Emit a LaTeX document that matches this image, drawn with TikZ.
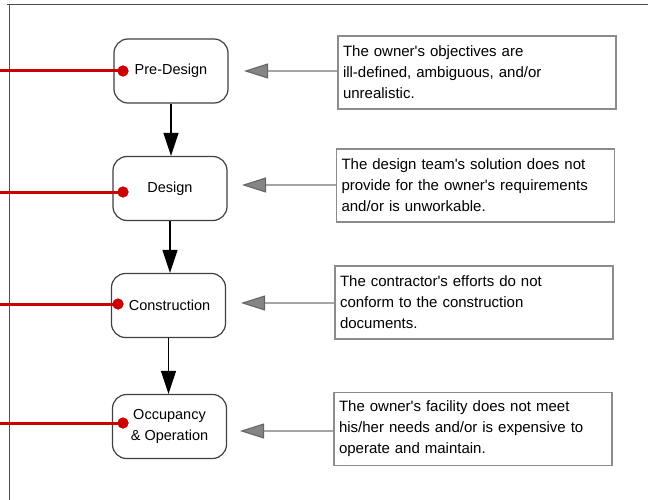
\documentclass[tikz,border=0pt]{standalone}
\usepackage{fontspec}
\setmainfont{Liberation Sans}[Ligatures=TeXOff]
\usetikzlibrary{arrows.meta}
\definecolor{dred}{RGB}{204,0,0}
\begin{document}
\begin{tikzpicture}[x=1pt,y=-1pt,
  stage/.style={draw=black!75, line width=1.2pt, rounded corners=14pt, fill=white,
    minimum width=114pt, minimum height=64pt, inner sep=0pt,
    font=\fontsize{14.5}{21}\selectfont, align=center},
  note/.style={draw=black!45, line width=1.1pt, fill=white, inner xsep=5pt, inner ysep=0pt,
    minimum height=73pt, text width=268pt, font=\fontsize{15}{21}\selectfont, align=left},
  flow/.style={draw=black, line width=1.2pt, -{Triangle[length=23pt,width=15pt]}},
  fb/.style={draw=black!35, line width=1.1pt,
    -{Triangle[length=24pt,width=15pt,color=black!60,fill=black!48]}},
  redline/.style={draw=dred, line width=3pt},
  reddot/.style={circle, fill=dred, inner sep=0pt, minimum size=11pt},
  frame/.style={draw=black!70, line width=1.2pt}
]
\fill[white] (0,0) rectangle (648,500);
\useasboundingbox (0,0) rectangle (648,500);
\draw[frame] (7,4.5) -- (648,4.5);
\draw[frame] (9.5,4.5) -- (9.5,500);

% stages
\node[stage] (s1) at (171,71) {Pre-Design};
\node[stage] (s2) at (170,188.5) {Design};
\node[stage] (s3) at (168.5,305.5) {\hspace*{2pt}Construction};
\node[stage] (s4) at (169.5,426.5) {Occupancy\\\& Operation};

% notes
\node[note] (n1) at (477,72.5) {The owner's objectives are\\ill-defined, ambiguous, and/or\\unrealistic.};
\node[note] (n2) at (475.5,185.5) {The design team's solution does not\\provide for the owner's requirements\\and/or is unworkable.};
\node[note] (n3) at (474,302.5) {The contractor's efforts do not\\conform to the construction\\documents.};
\node[note] (n4) at (473,429) {The owner's facility does not meet\\his/her needs and/or is expensive to\\operate and maintain.};

% flow arrows
\draw[flow] (s1.south) -- (s1.south |- s2.north);
\draw[flow] (s2.south) -- (s2.south |- s3.north);
\draw[flow] (s3.south) -- (s3.south |- s4.north);

% feedback arrows
\coordinate (t1) at (244,71);
\coordinate (t2) at (242,185);
\coordinate (t3) at (241,303);
\coordinate (t4) at (240,431);
\draw[fb] (n1.west |- t1) -- (t1);
\draw[fb] (n2.west |- t2) -- (t2);
\draw[fb] (n3.west |- t3) -- (t3);
\draw[fb] (n4.west |- t4) -- (t4);

% red lines with dots
\node[reddot] (d1) at (123,71) {};
\node[reddot] (d2) at (123,192) {};
\node[reddot] (d3) at (118,304) {};
\node[reddot] (d4) at (123,423) {};
\coordinate (e1) at (0,71);
\coordinate (e2) at (0,192);
\coordinate (e3) at (0,304);
\coordinate (e4) at (0,423);
\draw[redline] (e1) -- (d1.center);
\draw[redline] (e2) -- (d2.center);
\draw[redline] (e3) -- (d3.center);
\draw[redline] (e4) -- (d4.center);
\node[reddot] at (d1) {};
\node[reddot] at (d2) {};
\node[reddot] at (d3) {};
\node[reddot] at (d4) {};
\end{tikzpicture}
\end{document}
